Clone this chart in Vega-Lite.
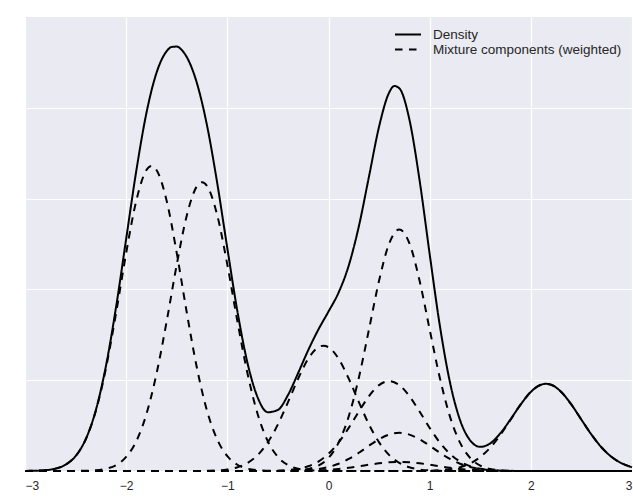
{
  "$schema": "https://vega.github.io/schema/vega-lite/v6.json",
  "width": 607,
  "height": 454,
  "autosize": {"type": "none"},
  "padding": {"left": 25, "top": 17, "right": 1, "bottom": 29},
  "background": "white",
  "config": {
    "view": {"fill": "#EAEAF2", "stroke": null},
    "font": "Liberation Sans",
    "axis": {"grid": true, "gridColor": "white", "gridWidth": 1.2, "domain": false, "ticks": false, "labelFont": "Liberation Sans", "labelFontSize": 12, "labelColor": "#262626", "title": null}
  },
  "encoding": {
    "x": {"field": "x", "type": "quantitative", "scale": {"domain": [-3, 3], "nice": false, "zero": false}, "axis": {"values": [-3, -2, -1, 0, 1, 2, 3], "labelPadding": 9, "title": null}},
    "y": {"field": "y", "type": "quantitative", "scale": {"domain": [0, 0.5], "nice": false}, "axis": {"values": [0.1, 0.2, 0.3, 0.4], "labels": false, "title": null}}
  },
  "layer": [
    {
      "data": {"values": [
        {"x": -3, "y": 0.0001}, {"x": -2.9, "y": 0.0003}, {"x": -2.8, "y": 0.0009}, {"x": -2.7, "y": 0.0026}, {"x": -2.6, "y": 0.0069},
        {"x": -2.5, "y": 0.0164}, {"x": -2.4, "y": 0.0350}, {"x": -2.3, "y": 0.0669}, {"x": -2.2, "y": 0.1156}, {"x": -2.1, "y": 0.1804},
        {"x": -2.0, "y": 0.2556}, {"x": -1.9, "y": 0.3305}, {"x": -1.8, "y": 0.3941}, {"x": -1.7, "y": 0.4386}, {"x": -1.6, "y": 0.4623},
        {"x": -1.55, "y": 0.4670}, {"x": -1.5, "y": 0.4674}, {"x": -1.45, "y": 0.4636}, {"x": -1.4, "y": 0.4557}, {"x": -1.3, "y": 0.4269},
        {"x": -1.2, "y": 0.3801}, {"x": -1.1, "y": 0.3171}, {"x": -1.0, "y": 0.2453}, {"x": -0.9, "y": 0.1756}, {"x": -0.8, "y": 0.1186},
        {"x": -0.7, "y": 0.0810}, {"x": -0.6, "y": 0.0647}, {"x": -0.5, "y": 0.0673}, {"x": -0.4, "y": 0.0838}, {"x": -0.3, "y": 0.1079},
        {"x": -0.2, "y": 0.1332}, {"x": -0.1, "y": 0.1558}, {"x": 0, "y": 0.1756}, {"x": 0.1, "y": 0.1966}, {"x": 0.2, "y": 0.2263},
        {"x": 0.3, "y": 0.2695}, {"x": 0.4, "y": 0.3242}, {"x": 0.5, "y": 0.3793}, {"x": 0.6, "y": 0.4169}, {"x": 0.65, "y": 0.4240},
        {"x": 0.7, "y": 0.4215}, {"x": 0.8, "y": 0.3869}, {"x": 0.9, "y": 0.3204}, {"x": 1.0, "y": 0.2389}, {"x": 1.1, "y": 0.1605},
        {"x": 1.2, "y": 0.0980}, {"x": 1.3, "y": 0.0562}, {"x": 1.4, "y": 0.0338}, {"x": 1.5, "y": 0.0266}, {"x": 1.6, "y": 0.0305},
        {"x": 1.7, "y": 0.0417}, {"x": 1.8, "y": 0.0570}, {"x": 1.9, "y": 0.0733}, {"x": 2.0, "y": 0.0871}, {"x": 2.1, "y": 0.0950},
        {"x": 2.15, "y": 0.096}, {"x": 2.2, "y": 0.0950}, {"x": 2.3, "y": 0.0871}, {"x": 2.4, "y": 0.0733}, {"x": 2.5, "y": 0.0565},
        {"x": 2.6, "y": 0.0400}, {"x": 2.7, "y": 0.0259}, {"x": 2.8, "y": 0.0154}, {"x": 2.9, "y": 0.0084}, {"x": 3.0, "y": 0.0042}
      ]},
      "mark": {"type": "line", "interpolate": "monotone", "strokeWidth": 2, "color": "black"},
      "encoding": {
        "strokeDash": {"datum": "Density", "type": "nominal",
          "scale": {"domain": ["Density", "Mixture components (weighted)"], "range": [[1, 0], [7.5, 6.5]]},
          "legend": {"title": null, "orient": "top-right", "offset": 8, "padding": 2, "symbolType": "stroke", "symbolSize": 676, "symbolStrokeWidth": 2, "symbolStrokeColor": "black", "labelFont": "Liberation Sans", "labelFontSize": 13.5, "labelColor": "#262626", "labelOffset": 11, "labelLimit": 0, "clipHeight": 15, "rowPadding": 0}}
      }
    },
    {
      "data": {"values": [
        {"s": "c1", "x": -3, "y": 0.0001}, {"s": "c1", "x": -2.9, "y": 0.0003}, {"s": "c1", "x": -2.8, "y": 0.0009}, {"s": "c1", "x": -2.7, "y": 0.0026},
        {"s": "c1", "x": -2.6, "y": 0.0069}, {"s": "c1", "x": -2.5, "y": 0.0163}, {"s": "c1", "x": -2.4, "y": 0.0347}, {"s": "c1", "x": -2.3, "y": 0.0661},
        {"s": "c1", "x": -2.2, "y": 0.1131}, {"s": "c1", "x": -2.1, "y": 0.1739}, {"s": "c1", "x": -2.0, "y": 0.2401}, {"s": "c1", "x": -1.9, "y": 0.2977},
        {"s": "c1", "x": -1.8, "y": 0.3315}, {"s": "c1", "x": -1.75, "y": 0.336}, {"s": "c1", "x": -1.7, "y": 0.3315}, {"s": "c1", "x": -1.6, "y": 0.2977},
        {"s": "c1", "x": -1.5, "y": 0.2401}, {"s": "c1", "x": -1.4, "y": 0.1739}, {"s": "c1", "x": -1.3, "y": 0.1131}, {"s": "c1", "x": -1.2, "y": 0.0661},
        {"s": "c1", "x": -1.1, "y": 0.0347}, {"s": "c1", "x": -1.0, "y": 0.0163}, {"s": "c1", "x": -0.9, "y": 0.0069}, {"s": "c1", "x": -0.8, "y": 0.0026},
        {"s": "c1", "x": -0.7, "y": 0.0009}, {"s": "c1", "x": -0.6, "y": 0.0003}, {"s": "c1", "x": -0.5, "y": 0.0001}, {"s": "c1", "x": -0.4, "y": 0},
        {"s": "c1", "x": 3, "y": 0},

        {"s": "c2", "x": -3, "y": 0}, {"s": "c2", "x": -2.6, "y": 0}, {"s": "c2", "x": -2.5, "y": 0.0001}, {"s": "c2", "x": -2.4, "y": 0.0003},
        {"s": "c2", "x": -2.3, "y": 0.0008}, {"s": "c2", "x": -2.2, "y": 0.0025}, {"s": "c2", "x": -2.1, "y": 0.0065}, {"s": "c2", "x": -2.0, "y": 0.0155},
        {"s": "c2", "x": -1.9, "y": 0.0328}, {"s": "c2", "x": -1.8, "y": 0.0626}, {"s": "c2", "x": -1.7, "y": 0.1071}, {"s": "c2", "x": -1.6, "y": 0.1646},
        {"s": "c2", "x": -1.5, "y": 0.2273}, {"s": "c2", "x": -1.4, "y": 0.2818}, {"s": "c2", "x": -1.3, "y": 0.3138}, {"s": "c2", "x": -1.25, "y": 0.318},
        {"s": "c2", "x": -1.2, "y": 0.3138}, {"s": "c2", "x": -1.1, "y": 0.2818}, {"s": "c2", "x": -1.0, "y": 0.2273}, {"s": "c2", "x": -0.9, "y": 0.1646},
        {"s": "c2", "x": -0.8, "y": 0.1071}, {"s": "c2", "x": -0.7, "y": 0.0626}, {"s": "c2", "x": -0.6, "y": 0.0328}, {"s": "c2", "x": -0.5, "y": 0.0155},
        {"s": "c2", "x": -0.4, "y": 0.0065}, {"s": "c2", "x": -0.3, "y": 0.0025}, {"s": "c2", "x": -0.2, "y": 0.0008}, {"s": "c2", "x": -0.1, "y": 0.0003},
        {"s": "c2", "x": 0, "y": 0.0001}, {"s": "c2", "x": 0.1, "y": 0}, {"s": "c2", "x": 3, "y": 0},

        {"s": "c3", "x": -3, "y": 0}, {"s": "c3", "x": -1.3, "y": 0}, {"s": "c3", "x": -1.2, "y": 0.0002}, {"s": "c3", "x": -1.1, "y": 0.0006},
        {"s": "c3", "x": -1.0, "y": 0.0017}, {"s": "c3", "x": -0.9, "y": 0.0041}, {"s": "c3", "x": -0.8, "y": 0.0089}, {"s": "c3", "x": -0.7, "y": 0.0175},
        {"s": "c3", "x": -0.6, "y": 0.0315}, {"s": "c3", "x": -0.5, "y": 0.0513}, {"s": "c3", "x": -0.4, "y": 0.0759}, {"s": "c3", "x": -0.3, "y": 0.1017},
        {"s": "c3", "x": -0.2, "y": 0.1236}, {"s": "c3", "x": -0.1, "y": 0.1363}, {"s": "c3", "x": -0.05, "y": 0.138}, {"s": "c3", "x": 0, "y": 0.1363},
        {"s": "c3", "x": 0.1, "y": 0.1236}, {"s": "c3", "x": 0.2, "y": 0.1017}, {"s": "c3", "x": 0.3, "y": 0.0759}, {"s": "c3", "x": 0.4, "y": 0.0513},
        {"s": "c3", "x": 0.5, "y": 0.0315}, {"s": "c3", "x": 0.6, "y": 0.0175}, {"s": "c3", "x": 0.7, "y": 0.0089}, {"s": "c3", "x": 0.8, "y": 0.0041},
        {"s": "c3", "x": 0.9, "y": 0.0017}, {"s": "c3", "x": 1.0, "y": 0.0006}, {"s": "c3", "x": 1.1, "y": 0.0002}, {"s": "c3", "x": 1.2, "y": 0},
        {"s": "c3", "x": 3, "y": 0},

        {"s": "c4", "x": -3, "y": 0}, {"s": "c4", "x": -0.5, "y": 0}, {"s": "c4", "x": -0.4, "y": 0.0002}, {"s": "c4", "x": -0.3, "y": 0.0007},
        {"s": "c4", "x": -0.2, "y": 0.0022}, {"s": "c4", "x": -0.1, "y": 0.0059}, {"s": "c4", "x": 0, "y": 0.0144}, {"s": "c4", "x": 0.1, "y": 0.0313},
        {"s": "c4", "x": 0.2, "y": 0.0602}, {"s": "c4", "x": 0.3, "y": 0.1028}, {"s": "c4", "x": 0.4, "y": 0.1558}, {"s": "c4", "x": 0.5, "y": 0.2097},
        {"s": "c4", "x": 0.6, "y": 0.2507}, {"s": "c4", "x": 0.7, "y": 0.266}, {"s": "c4", "x": 0.8, "y": 0.2507}, {"s": "c4", "x": 0.9, "y": 0.2097},
        {"s": "c4", "x": 1.0, "y": 0.1558}, {"s": "c4", "x": 1.1, "y": 0.1028}, {"s": "c4", "x": 1.2, "y": 0.0602}, {"s": "c4", "x": 1.3, "y": 0.0313},
        {"s": "c4", "x": 1.4, "y": 0.0144}, {"s": "c4", "x": 1.5, "y": 0.0059}, {"s": "c4", "x": 1.6, "y": 0.0022}, {"s": "c4", "x": 1.7, "y": 0.0007},
        {"s": "c4", "x": 1.8, "y": 0.0002}, {"s": "c4", "x": 1.9, "y": 0}, {"s": "c4", "x": 3, "y": 0},

        {"s": "c5", "x": -3, "y": 0}, {"s": "c5", "x": -0.7, "y": 0}, {"s": "c5", "x": -0.6, "y": 0.0001}, {"s": "c5", "x": -0.5, "y": 0.0004},
        {"s": "c5", "x": -0.4, "y": 0.0010}, {"s": "c5", "x": -0.3, "y": 0.0024}, {"s": "c5", "x": -0.2, "y": 0.0052}, {"s": "c5", "x": -0.1, "y": 0.0104},
        {"s": "c5", "x": 0, "y": 0.0190}, {"s": "c5", "x": 0.1, "y": 0.0314}, {"s": "c5", "x": 0.2, "y": 0.0475}, {"s": "c5", "x": 0.3, "y": 0.0655},
        {"s": "c5", "x": 0.4, "y": 0.0824}, {"s": "c5", "x": 0.5, "y": 0.0946}, {"s": "c5", "x": 0.6, "y": 0.099}, {"s": "c5", "x": 0.7, "y": 0.0946},
        {"s": "c5", "x": 0.8, "y": 0.0824}, {"s": "c5", "x": 0.9, "y": 0.0655}, {"s": "c5", "x": 1.0, "y": 0.0475}, {"s": "c5", "x": 1.1, "y": 0.0314},
        {"s": "c5", "x": 1.2, "y": 0.0190}, {"s": "c5", "x": 1.3, "y": 0.0104}, {"s": "c5", "x": 1.4, "y": 0.0052}, {"s": "c5", "x": 1.5, "y": 0.0024},
        {"s": "c5", "x": 1.6, "y": 0.0010}, {"s": "c5", "x": 1.7, "y": 0.0004}, {"s": "c5", "x": 1.8, "y": 0.0001}, {"s": "c5", "x": 1.9, "y": 0},
        {"s": "c5", "x": 3, "y": 0},

        {"s": "c6", "x": -3, "y": 0}, {"s": "c6", "x": -0.5, "y": 0}, {"s": "c6", "x": -0.4, "y": 0.0002}, {"s": "c6", "x": -0.3, "y": 0.0004},
        {"s": "c6", "x": -0.2, "y": 0.0010}, {"s": "c6", "x": -0.1, "y": 0.0022}, {"s": "c6", "x": 0, "y": 0.0044}, {"s": "c6", "x": 0.1, "y": 0.0080},
        {"s": "c6", "x": 0.2, "y": 0.0133}, {"s": "c6", "x": 0.3, "y": 0.0201}, {"s": "c6", "x": 0.4, "y": 0.0278}, {"s": "c6", "x": 0.5, "y": 0.0350},
        {"s": "c6", "x": 0.6, "y": 0.0401}, {"s": "c6", "x": 0.7, "y": 0.042}, {"s": "c6", "x": 0.8, "y": 0.0401}, {"s": "c6", "x": 0.9, "y": 0.0350},
        {"s": "c6", "x": 1.0, "y": 0.0278}, {"s": "c6", "x": 1.1, "y": 0.0201}, {"s": "c6", "x": 1.2, "y": 0.0133}, {"s": "c6", "x": 1.3, "y": 0.0080},
        {"s": "c6", "x": 1.4, "y": 0.0044}, {"s": "c6", "x": 1.5, "y": 0.0022}, {"s": "c6", "x": 1.6, "y": 0.0010}, {"s": "c6", "x": 1.7, "y": 0.0004},
        {"s": "c6", "x": 1.8, "y": 0.0002}, {"s": "c6", "x": 1.9, "y": 0}, {"s": "c6", "x": 3, "y": 0},

        {"s": "c7", "x": -3, "y": 0}, {"s": "c7", "x": -0.4, "y": 0}, {"s": "c7", "x": -0.3, "y": 0.0002}, {"s": "c7", "x": -0.2, "y": 0.0004},
        {"s": "c7", "x": -0.1, "y": 0.0007}, {"s": "c7", "x": 0, "y": 0.0014}, {"s": "c7", "x": 0.1, "y": 0.0023}, {"s": "c7", "x": 0.2, "y": 0.0036},
        {"s": "c7", "x": 0.3, "y": 0.0052}, {"s": "c7", "x": 0.4, "y": 0.0069}, {"s": "c7", "x": 0.5, "y": 0.0085}, {"s": "c7", "x": 0.6, "y": 0.0096},
        {"s": "c7", "x": 0.7, "y": 0.010}, {"s": "c7", "x": 0.8, "y": 0.0096}, {"s": "c7", "x": 0.9, "y": 0.0085}, {"s": "c7", "x": 1.0, "y": 0.0069},
        {"s": "c7", "x": 1.1, "y": 0.0052}, {"s": "c7", "x": 1.2, "y": 0.0036}, {"s": "c7", "x": 1.3, "y": 0.0023}, {"s": "c7", "x": 1.4, "y": 0.0014},
        {"s": "c7", "x": 1.5, "y": 0.0007}, {"s": "c7", "x": 1.6, "y": 0.0004}, {"s": "c7", "x": 1.7, "y": 0.0002}, {"s": "c7", "x": 1.8, "y": 0},
        {"s": "c7", "x": 3, "y": 0},

        {"s": "c8", "x": -3, "y": 0}, {"s": "c8", "x": 0.8, "y": 0}, {"s": "c8", "x": 0.9, "y": 0.0001}, {"s": "c8", "x": 1.0, "y": 0.0003},
        {"s": "c8", "x": 1.1, "y": 0.0008}, {"s": "c8", "x": 1.2, "y": 0.0019}, {"s": "c8", "x": 1.3, "y": 0.0042}, {"s": "c8", "x": 1.4, "y": 0.0084},
        {"s": "c8", "x": 1.5, "y": 0.0154}, {"s": "c8", "x": 1.6, "y": 0.0259}, {"s": "c8", "x": 1.7, "y": 0.0400}, {"s": "c8", "x": 1.8, "y": 0.0565},
        {"s": "c8", "x": 1.9, "y": 0.0733}, {"s": "c8", "x": 2.0, "y": 0.0871}, {"s": "c8", "x": 2.1, "y": 0.0950}, {"s": "c8", "x": 2.15, "y": 0.096},
        {"s": "c8", "x": 2.2, "y": 0.0950}, {"s": "c8", "x": 2.3, "y": 0.0871}, {"s": "c8", "x": 2.4, "y": 0.0733}, {"s": "c8", "x": 2.5, "y": 0.0565},
        {"s": "c8", "x": 2.6, "y": 0.0400}, {"s": "c8", "x": 2.7, "y": 0.0259}, {"s": "c8", "x": 2.8, "y": 0.0154}, {"s": "c8", "x": 2.9, "y": 0.0084},
        {"s": "c8", "x": 3.0, "y": 0.0042}
      ]},
      "mark": {"type": "line", "interpolate": "monotone", "strokeWidth": 2, "color": "black"},
      "encoding": {
        "detail": {"field": "s", "type": "nominal"},
        "strokeDash": {"datum": "Mixture components (weighted)", "type": "nominal"}
      }
    }
  ]
}
